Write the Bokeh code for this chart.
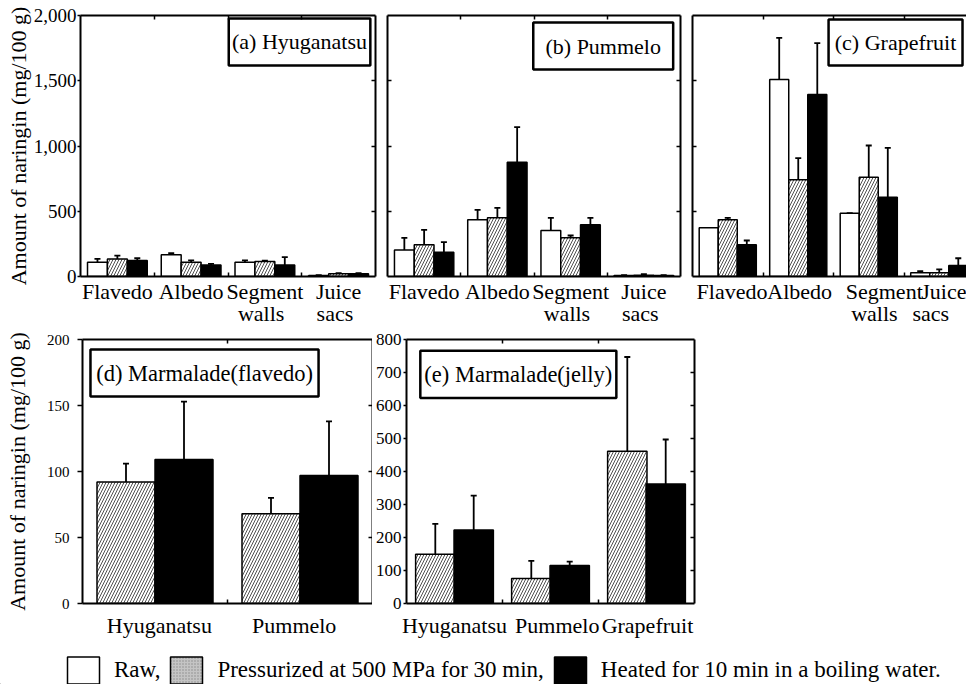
from bokeh.plotting import figure
from bokeh.models import (FixedTicker, LinearAxis, Range1d, Whisker, ColumnDataSource,
                          Legend, LegendItem, TeeHead, NumeralTickFormatter)
from bokeh.layouts import column, row
from bokeh.embed import file_html
from bokeh.resources import INLINE
from bokeh.core.properties import value

FONT = "Liberation Serif"

# ---------------- data ----------------
top_labels_line1 = ["Flavedo", "Albedo", "Segment", "Juice"]
top_labels_line2 = ["", "", "walls", "sacs"]

hyuganatsu_raw = [110, 166, 110, 8]
hyuganatsu_raw_err = [25, 13, 13, 3]
hyuganatsu_press = [135, 110, 115, 22]
hyuganatsu_press_err = [25, 13, 6, 3]
hyuganatsu_heat = [123, 89, 89, 22]
hyuganatsu_heat_err = [17, 8, 59, 3]

pummelo_raw = [204, 434, 352, 8]
pummelo_raw_err = [92, 77, 98, 3]
pummelo_press = [243, 450, 296, 10]
pummelo_press_err = [115, 76, 18, 8]
pummelo_heat = [186, 876, 396, 8]
pummelo_heat_err = [77, 268, 54, 3]

grapefruit_raw = [373, 1510, 485, 28]
grapefruit_raw_err = [0, 319, 0, 13]
grapefruit_press = [434, 741, 761, 28]
grapefruit_press_err = [16, 166, 243, 26]
grapefruit_heat = [243, 1395, 608, 84]
grapefruit_heat_err = [33, 393, 378, 56]

flavedo_marm_labels = ["Hyuganatsu", "Pummelo"]
flavedo_marm_press = [92, 68]
flavedo_marm_press_err = [14, 12]
flavedo_marm_heat = [109, 97]
flavedo_marm_heat_err = [44, 41]

jelly_marm_labels = ["Hyuganatsu", "Pummelo", "Grapefruit"]
jelly_marm_press = [149, 76, 461]
jelly_marm_press_err = [92, 53, 286]
jelly_marm_heat = [223, 115, 362]
jelly_marm_heat_err = [104, 12, 135]

top_y_ticks = [0, 500, 1000, 1500, 2000]
d_y_ticks = [0, 50, 100, 150, 200]
e_y_ticks = [0, 100, 200, 300, 400, 500, 600, 700, 800]

y_label = "Amount of naringin (mg/100 g)"
panel_titles = ["(a) Hyuganatsu", "(b) Pummelo", "(c) Grapefruit",
                "(d) Marmalade(flavedo)", "(e) Marmalade(jelly)"]
legend_labels = ["Raw,", "Pressurized at 500 MPa for 30 min,",
                 "Heated for 10 min in a boiling water."]

# ---------------- styles / layout constants ----------------
RAW = dict(fill_color="white", line_color="black", line_width=1.5)
PRESS = dict(fill_color="white", line_color="black", line_width=1.5,
             hatch_pattern="/", hatch_color="#505050", hatch_scale=6, hatch_weight=1)
HEAT = dict(fill_color="black", line_color="black", line_width=1.5)

# title boxes (data coords: left, right, bottom, top)
TITLE_BOX = [(2.01, 3.93, 1617, 1977), (1.99, 3.90, 1586, 1946), (1.93, 3.83, 1617, 1969),
             (0.055, 1.628, 156.8, 192.4), (0.144, 2.186, 623, 766)]

# label anchor positions (in group units)
LABEL_POS_STD = ([0.5, 1.5, 2.5, 3.5], [0.5, 1.5, 2.45, 3.45])
LABEL_POS_C = ([0.56, 1.52, 2.72, 3.57], [0.5, 1.5, 2.58, 3.38])
LABEL_POS_D = [0.53, 1.46]
LABEL_POS_E = [0.5, 1.57, 2.51]


def base_panel(width, height, x_end, y_end, left, right, top, bottom):
    p = figure(width=width, height=height, x_range=Range1d(0, x_end), y_range=Range1d(0, y_end),
               output_backend="svg", toolbar_location=None,
               x_axis_location=None, y_axis_location=None,
               min_border_left=left, min_border_right=right,
               min_border_top=top, min_border_bottom=bottom)
    p.outline_line_color = None
    p.grid.visible = False
    p.background_fill_color = "white"
    p.border_fill_color = "white"
    return p


def frame_axis(ticks, inward=4):
    ax = LinearAxis(ticker=FixedTicker(ticks=ticks, minor_ticks=[]))
    ax.axis_line_width = 2
    ax.axis_line_color = "black"
    ax.major_tick_in = inward
    ax.major_tick_out = 0
    ax.major_tick_line_width = 1.5
    ax.minor_tick_line_color = None
    ax.major_label_text_font_size = "1px"
    ax.major_label_text_color = None
    ax.major_label_standoff = 0
    return ax


def value_axis(ticks, font_size, tick_out, standoff, label=None, label_standoff=0, fmt=None):
    ax = LinearAxis(ticker=FixedTicker(ticks=ticks, minor_ticks=[]))
    if fmt:
        ax.formatter = NumeralTickFormatter(format=fmt)
    ax.axis_line_width = 2
    ax.major_tick_in = 0
    ax.major_tick_out = tick_out
    ax.major_tick_line_width = 1.5
    ax.minor_tick_line_color = None
    ax.major_label_text_font = FONT
    ax.major_label_text_font_size = font_size
    ax.major_label_text_color = "black"
    ax.major_label_standoff = standoff
    if label:
        ax.axis_label = label
        ax.axis_label_text_font = FONT
        ax.axis_label_text_font_style = "normal"
        ax.axis_label_text_font_size = "22px"
        ax.axis_label_text_color = "black"
        ax.axis_label_standoff = label_standoff
    return ax


def category_axis(labels, positions, n, font_size, standoff, with_line=True):
    centers = [positions[i] for i in range(n) if labels[i]]
    texts = [labels[i] for i in range(n) if labels[i]]
    bounds = [i for i in range(1, n)] if with_line else []
    ax = LinearAxis(ticker=FixedTicker(ticks=centers, minor_ticks=bounds))
    ax.major_label_overrides = {c: t for c, t in zip(centers, texts)}
    ax.major_tick_line_color = None
    ax.major_tick_in = 0
    ax.major_tick_out = 0
    ax.minor_tick_in = 4
    ax.minor_tick_out = 0
    ax.minor_tick_line_width = 1.5
    ax.minor_tick_line_color = "black" if with_line else None
    ax.axis_line_width = 2
    ax.axis_line_color = "black" if with_line else None
    ax.major_label_text_font = FONT
    ax.major_label_text_font_size = font_size
    ax.major_label_text_color = "black"
    ax.major_label_standoff = standoff
    return ax


def add_series(p, vals, errs, offset, width, style):
    xs = [i + 0.5 + offset for i in range(len(vals))]
    src = ColumnDataSource(dict(x=xs, top=vals, hi=[v + e for v, e in zip(vals, errs)]))
    p.vbar(x="x", top="top", bottom=0, width=width, source=src, **style)
    w = Whisker(source=src, base="x", upper="hi", lower="top", line_width=1.8, line_color="black",
                lower_head=None, upper_head=TeeHead(size=6, line_width=1.8, line_color="black"))
    p.add_layout(w)


def add_title(p, idx, size):
    l, r, b, t = TITLE_BOX[idx]
    p.quad(left=[l], right=[r], bottom=[b], top=[t], fill_color="white",
           line_color="black", line_width=2.5)
    p.text(x=[(l + r) / 2], y=[(b + t) / 2], text=[panel_titles[idx]], text_font=value(FONT),
           text_font_size=size, text_align="center", text_baseline="middle", text_color="black")


def top_panel(idx, width, x_end, left, right, raw, raw_e, press, press_e, heat, heat_e,
              first=False, right_axis=True, label_pos=LABEL_POS_STD):
    p = base_panel(width, 329, x_end, 2000, left, right, 15, 53)
    add_series(p, raw, raw_e, -0.27, 0.27, RAW)
    add_series(p, press, press_e, 0.0, 0.27, PRESS)
    add_series(p, heat, heat_e, 0.27, 0.27, HEAT)
    add_title(p, idx, "22px")
    if first:
        p.add_layout(value_axis(top_y_ticks, "19px", 3, 1, y_label, 0, "0,0"), "left")
    else:
        p.add_layout(frame_axis(top_y_ticks[1:-1]), "left")
    if right_axis:
        p.add_layout(frame_axis(top_y_ticks[1:-1]), "right")
    p.add_layout(frame_axis([1, 2, 3]), "above")
    p.add_layout(category_axis(top_labels_line1, label_pos[0], 4, "22px", 2), "below")
    p.add_layout(category_axis(top_labels_line2, label_pos[1], 4, "22px", -6, with_line=False),
                 "below")
    return p


pa = top_panel(0, 381, 4, 80, 6, hyuganatsu_raw, hyuganatsu_raw_err, hyuganatsu_press,
               hyuganatsu_press_err, hyuganatsu_heat, hyuganatsu_heat_err, first=True)
pb = top_panel(1, 305, 4, 6, 6, pummelo_raw, pummelo_raw_err, pummelo_press,
               pummelo_press_err, pummelo_heat, pummelo_heat_err)
pc = top_panel(2, 280, 274 / 70.5, 6, 0, grapefruit_raw, grapefruit_raw_err, grapefruit_press,
               grapefruit_press_err, grapefruit_heat, grapefruit_heat_err, right_axis=False,
               label_pos=LABEL_POS_C)

# panel d
pd_ = base_panel(372, 316, 2, 200, 82, 0, 10, 42)
add_series(pd_, flavedo_marm_press, flavedo_marm_press_err, -0.2, 0.4, PRESS)
add_series(pd_, flavedo_marm_heat, flavedo_marm_heat_err, 0.2, 0.4, HEAT)
add_title(pd_, 3, "22.5px")
pd_.add_layout(value_axis(d_y_ticks, "15px", 5, 8, y_label, 14), "left")
pd_.add_layout(frame_axis(d_y_ticks[1:-1]), "right")
pd_.add_layout(frame_axis([1]), "above")
pd_.add_layout(category_axis(flavedo_marm_labels, LABEL_POS_D, 2, "22px", 9), "below")

# panel e
pe = base_panel(326, 316, 3, 800, 31, 4, 10, 42)
add_series(pe, jelly_marm_press, jelly_marm_press_err, -0.2, 0.41, PRESS)
add_series(pe, jelly_marm_heat, jelly_marm_heat_err, 0.2, 0.41, HEAT)
add_title(pe, 4, "22.5px")
pe.add_layout(value_axis(e_y_ticks, "17px", 3, 2), "left")
pe.add_layout(frame_axis(e_y_ticks[1:-1]), "right")
pe.add_layout(frame_axis([1, 2]), "above")
pe.add_layout(category_axis(jelly_marm_labels, LABEL_POS_E, 3, "22px", 9), "below")

# legend strip (legend-only proxy renderers, placed outside the visible range)
lf = figure(width=966, height=39, x_range=Range1d(0, 1), y_range=Range1d(0, 1),
            output_backend="svg", toolbar_location=None,
            x_axis_location=None, y_axis_location=None, min_border=0)
lf.outline_line_color = None
lf.grid.visible = False
r_raw = lf.vbar(x=[-5], top=[0], width=0.1, fill_color="white", line_color="black",
                line_width=1.5)
r_press = lf.vbar(x=[-5], top=[0], width=0.1, fill_color="#c4c4c4", line_color="black",
                  line_width=1.5, hatch_pattern="dot", hatch_color="#8a8a8a", hatch_scale=3,
                  hatch_weight=1)
r_heat = lf.vbar(x=[-5], top=[0], width=0.1, fill_color="black", line_color="black",
                 line_width=1.5)
legend = Legend(items=[LegendItem(label=legend_labels[0], renderers=[r_raw]),
                       LegendItem(label=legend_labels[1], renderers=[r_press]),
                       LegendItem(label=legend_labels[2], renderers=[r_heat])],
                orientation="horizontal", location=(63, -3), glyph_width=40, glyph_height=34,
                label_standoff=11, spacing=6, padding=0, margin=0, border_line_color=None,
                background_fill_alpha=0, label_text_font=FONT, label_text_font_size="23px",
                label_text_color="black", label_height=34)
lf.add_layout(legend, "center")

layout = column(row(pa, pb, pc), row(pd_, pe), lf)
open("out.html", "w").write(file_html(layout, INLINE))
